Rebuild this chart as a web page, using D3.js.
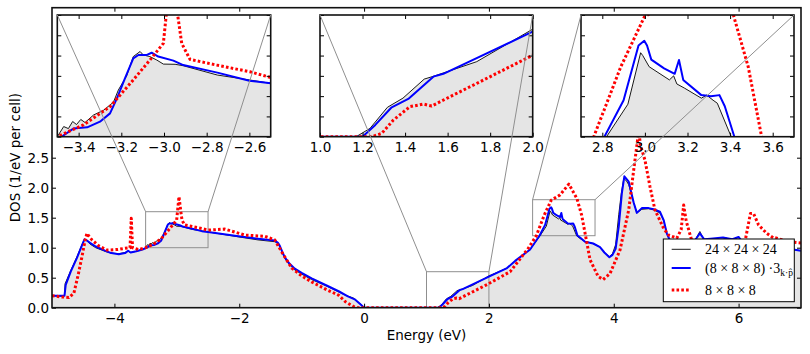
<!DOCTYPE html>
<html>
<head>
<meta charset="utf-8">
<script src="https://cdn.jsdelivr.net/npm/d3@7"></script>
<style>
    body { margin: 0; background: #fff; }
    svg { display: block; font-family: "DejaVu Sans", sans-serif; }
</style>
</head>
<body>
<svg id="chart" width="810" height="354"></svg>
<script>
// Data: [energy (eV), DOS (1/eV per cell)]
const fine24 = [
    [-5.0,0.2],[-4.82,0.19],[-4.8,0.2],[-4.79,0.4],[-4.7,0.62],[-4.6,0.85],[-4.52,1.05],[-4.48,1.14],
    [-4.44,1.12],[-4.39,1.06],[-4.3,1.0],[-4.15,0.94],[-4.05,0.91],[-3.93,0.9],[-3.83,0.92],[-3.78,0.94],
    [-3.74,0.92],[-3.65,0.94],[-3.55,0.97],[-3.5,1.0],[-3.47,1.05],[-3.448,1.04],[-3.428,1.075],[-3.41,1.06],
    [-3.39,1.085],[-3.37,1.07],[-3.33,1.107],[-3.284,1.13],[-3.237,1.17],[-3.214,1.23],[-3.175,1.3],
    [-3.144,1.395],[-3.112,1.42],[-3.097,1.403],[-3.066,1.395],[-3.034,1.378],[-3.003,1.358],[-2.948,1.357],
    [-2.91,1.35],[-2.75,1.304],[-2.6,1.28],[-2.5,1.263],[-2.01,1.18],[-1.7,1.13],[-1.43,1.1],[-1.38,1.07],
    [-1.35,1.02],[-1.31,0.92],[-1.27,0.82],[-1.2,0.72],[-1.11,0.63],[-1.0,0.56],[-0.84,0.47],[-0.6,0.36],
    [-0.4,0.26],[-0.3,0.21],[-0.17,0.16],[-0.08,0.08],[-0.01,0.02],[0.0,0],[1.17,0],[1.235,0.041],
    [1.317,0.145],[1.39,0.19],[1.49,0.284],[1.54,0.3],[1.737,0.37],[2.0,0.53],[2.29,0.66],[2.42,0.78],
    [2.66,0.97],[2.82,1.2],[2.92,1.36],[2.98,1.614],[2.99,1.6],[3.02,1.545],[3.115,1.48],[3.135,1.5],
    [3.15,1.46],[3.185,1.44],[3.265,1.39],[3.29,1.405],[3.32,1.38],[3.34,1.365],[3.405,1.2],[3.45,1.16],
    [3.54,1.1],[3.6,1.09],[3.67,1.07],[3.78,1.01],[3.85,0.92],[3.93,0.85],[3.98,0.9],[4.03,1.05],
    [4.08,1.55],[4.12,1.9],[4.16,2.15],[4.2,2.12],[4.24,2.05],[4.32,1.75],[4.37,1.58],[4.45,1.64],
    [4.56,1.65],[4.64,1.63],[4.74,1.58],[4.8,1.45],[4.85,1.24],[4.9,1.12],[5.0,1.02],[5.1,1.0],
    [5.2,1.04],[5.3,1.12],[5.38,1.27],[5.45,1.12],[5.55,1.15],[5.7,1.12],[5.8,1.16],[5.9,1.13],
    [6.0,1.17],[6.1,1.04],[6.3,1.0],[6.5,0.98],[6.7,1.0],[7.0,0.95]
]
const kp8 = [
    [-5.0,0.2],[-4.8,0.2],[-4.78,0.38],[-4.7,0.6],[-4.6,0.83],[-4.52,1.04],[-4.48,1.14],[-4.44,1.12],
    [-4.39,1.08],[-4.3,1.02],[-4.15,0.95],[-4.05,0.91],[-3.93,0.89],[-3.83,0.91],[-3.78,0.95],[-3.74,0.92],
    [-3.65,0.94],[-3.55,0.97],[-3.48,1.0],[-3.425,1.04],[-3.36,1.046],[-3.3,1.074],[-3.253,1.115],
    [-3.22,1.19],[-3.183,1.288],[-3.144,1.386],[-3.12,1.403],[-3.08,1.403],[-3.058,1.414],[-3.027,1.395],
    [-2.956,1.375],[-2.91,1.353],[-2.75,1.316],[-2.6,1.276],[-2.5,1.263],[-2.01,1.19],[-1.7,1.15],
    [-1.43,1.12],[-1.38,1.08],[-1.35,1.03],[-1.31,0.93],[-1.27,0.84],[-1.2,0.74],[-1.11,0.65],[-1.0,0.58],
    [-0.84,0.49],[-0.6,0.37],[-0.4,0.27],[-0.26,0.19],[-0.15,0.14],[-0.05,0.05],[0.0,0],[1.2,0],
    [1.26,0.058],[1.337,0.145],[1.415,0.186],[1.533,0.296],[1.58,0.31],[2.0,0.518],[2.29,0.66],[2.42,0.78],
    [2.66,0.97],[2.81,1.2],[2.9,1.38],[2.97,1.65],[2.997,1.673],[3.01,1.65],[3.03,1.58],[3.09,1.537],
    [3.14,1.51],[3.16,1.578],[3.18,1.48],[3.265,1.405],[3.31,1.4],[3.35,1.405],[3.375,1.35],[3.42,1.2],
    [3.46,1.17],[3.54,1.1],[3.67,1.07],[3.78,1.01],[3.85,0.92],[3.93,0.84],[3.98,0.88],[4.03,0.98],
    [4.08,1.35],[4.13,1.91],[4.17,2.19],[4.24,2.1],[4.32,1.75],[4.37,1.58],[4.45,1.66],[4.56,1.66],
    [4.64,1.64],[4.74,1.6],[4.8,1.46],[4.85,1.24],[4.9,1.12],[5.0,1.02],[5.1,1.0],[5.2,1.04],[5.3,1.12],
    [5.38,1.24],[5.45,1.14],[5.55,1.15],[5.75,1.17],[5.9,1.14],[6.0,1.18],[6.1,1.04],[6.3,1.0],
    [6.5,0.98],[6.7,1.0],[7.0,0.95]
]
const coarse8 = [
    [-5.0,0.2],[-4.85,0.18],[-4.73,0.17],[-4.65,0.24],[-4.58,0.55],[-4.52,0.85],[-4.47,1.12],[-4.44,1.24],
    [-4.4,1.18],[-4.36,1.13],[-4.25,1.03],[-4.12,0.96],[-3.95,0.97],[-3.83,0.99],[-3.75,1.0],[-3.73,1.49],
    [-3.71,1.0],[-3.61,0.97],[-3.5,1.0],[-3.378,1.058],[-3.253,1.148],[-3.144,1.28],[-3.066,1.378],
    [-3.003,1.46],[-2.98,1.7],[-2.965,1.85],[-2.95,1.72],[-2.936,1.6],[-2.917,1.46],[-2.878,1.381],
    [-2.753,1.353],[-2.597,1.32],[-2.503,1.293],[-2.23,1.31],[-1.91,1.21],[-1.59,1.19],[-1.43,1.13],
    [-1.32,0.93],[-1.16,0.66],[-1.0,0.53],[-0.84,0.43],[-0.6,0.3],[-0.41,0.21],[-0.3,0.1],[-0.17,0.02],
    [-0.1,0],[1.243,0],[1.29,0.016],[1.345,0.082],[1.423,0.148],[1.486,0.161],[1.525,0.151],[1.611,0.197],
    [1.768,0.279],[1.987,0.395],[2.34,0.6],[2.63,0.99],[2.76,1.2],[2.887,1.545],[2.997,1.79],[3.14,1.88],
    [3.28,2.06],[3.41,1.82],[3.485,1.545],[3.548,1.2],[3.62,0.8],[3.75,0.52],[3.83,0.47],[3.94,0.57],
    [4.1,0.96],[4.24,1.63],[4.32,2.3],[4.37,2.7],[4.4,2.95],[4.43,2.7],[4.5,2.46],[4.58,2.02],[4.66,1.63],
    [4.8,1.32],[4.88,1.21],[5.01,1.16],[5.08,1.3],[5.12,1.71],[5.16,1.45],[5.2,1.3],[5.25,1.12],[5.4,1.05],
    [5.6,0.98],[5.8,1.02],[6.0,1.05],[6.11,1.14],[6.19,1.57],[6.24,1.57],[6.32,1.38],[6.45,1.24],
    [6.56,1.16],[6.61,1.16],[6.8,1.1],[7.0,1.08]
]

const seriesLabels = ["24 × 24 × 24", "(8 × 8 × 8) ·3", "8 × 8 × 8"]
const mainXDomain = [-5, 7]
const mainYDomain = [0, 5]
const mainXTicks = [-4, -2, 0, 2, 4, 6]
const mainYTicks = [0, 0.5, 1.0, 1.5, 2.0, 2.5]
const insetXDomains = [[-3.5, -2.5], [1.0, 2.0], [2.7, 3.7]]
const insetYDomains = [[1.0, 1.6], [0, 0.6], [1.2, 1.8]]
const insetXTicks = [[-3.4, -3.2, -3.0, -2.8, -2.6], [1.0, 1.2, 1.4, 1.6, 1.8, 2.0], [2.8, 3.0, 3.2, 3.4, 3.6]]

//Params
const params = {
    main: {left: 52, right: 801, top: 7.7, bottom: 307.7},
    insets: [
        {left: 57.3, right: 270.7, top: 15, bottom: 136.7},
        {left: 320, right: 532.7, top: 15, bottom: 136.7},
        {left: 581, right: 794, top: 15, bottom: 136.7}
    ],
    tick: 4,
    fontSize: 13.5,
    legendFont: 14,
    fill: "#e5e5e5",
    markColor: "#8f8f8f"
}
const styles = [
    {color: "#000000", width: 0.9, dash: null},
    {color: "#0000ff", width: 2, dash: null},
    {color: "#ff0000", width: 3, dash: "2.6,2.2"}
]
const allSeries = [fine24, kp8, coarse8]

const svg = d3.select("#chart")
svg.append("rect").attr("width", 810).attr("height", 354).attr("fill", "white")

function makeScales(box, xDom, yDom){
    return {
        x: d3.scaleLinear().domain(xDom).range([box.left, box.right]),
        y: d3.scaleLinear().domain(yDom).range([box.bottom, box.top])
    }
}

function drawPanel(box, sc, id, withBg, extra){
    svg.append("clipPath").attr("id", "clip-" + id)
        .append("rect")
        .attr("x", box.left).attr("y", box.top)
        .attr("width", box.right - box.left).attr("height", box.bottom - box.top)

    const g = svg.append("g").attr("clip-path", "url(#clip-" + id + ")")
    if(withBg){
        g.append("rect")
            .attr("x", box.left).attr("y", box.top)
            .attr("width", box.right - box.left).attr("height", box.bottom - box.top)
            .attr("fill", "white")
    }

    const area = d3.area().x(d => sc.x(d[0])).y0(sc.y(0)).y1(d => sc.y(d[1]))
    g.append("path").datum(fine24).attr("d", area).attr("fill", params.fill)

    if(extra) extra(g)

    const line = d3.line().x(d => sc.x(d[0])).y(d => sc.y(d[1]))
    allSeries.forEach(function(s, i){
        g.append("path").datum(s)
            .attr("d", line)
            .attr("fill", "none")
            .attr("stroke", styles[i].color)
            .attr("stroke-width", styles[i].width)
            .attr("stroke-dasharray", styles[i].dash)
            .attr("stroke-linejoin", "round")
    })
}

function drawAxes(box, sc, xTicks, yTicks, xFmt, yFmt){
    const t = params.tick
    const none = () => ""
    const axes = [
        svg.append("g").attr("transform", "translate(0," + box.bottom + ")")
            .call(d3.axisBottom(sc.x).tickValues(xTicks).tickSize(-t).tickPadding(5.5).tickFormat(xFmt ? d3.format(xFmt) : none)),
        svg.append("g").attr("transform", "translate(0," + box.top + ")")
            .call(d3.axisTop(sc.x).tickValues(xTicks).tickSize(-t).tickFormat(none)),
        svg.append("g").attr("transform", "translate(" + box.left + ",0)")
            .call(d3.axisLeft(sc.y).tickValues(yTicks).tickSize(-t).tickPadding(3).tickFormat(yFmt ? d3.format(yFmt) : none)),
        svg.append("g").attr("transform", "translate(" + box.right + ",0)")
            .call(d3.axisRight(sc.y).tickValues(yTicks).tickSize(-t).tickFormat(none))
    ]
    axes.forEach(a => {
        a.select(".domain").remove()
        a.attr("font-size", params.fontSize).attr("font-family", "DejaVu Sans, sans-serif")
        a.selectAll(".tick line").attr("stroke", "#000").attr("stroke-width", 1)
        a.selectAll(".tick text").attr("fill", "#000")
    })
    svg.append("rect")
        .attr("x", box.left).attr("y", box.top)
        .attr("width", box.right - box.left).attr("height", box.bottom - box.top)
        .attr("fill", "none").attr("stroke", "#111").attr("stroke-width", 1.6)
}

// main axes
const m = params.main
const ms = makeScales(m, mainXDomain, mainYDomain)
drawPanel(m, ms, "main", false, function(g){
    insetXDomains.forEach(function(xd, i){
        const yd = insetYDomains[i]
        g.append("rect")
            .attr("x", ms.x(xd[0])).attr("y", ms.y(yd[1]))
            .attr("width", ms.x(xd[1]) - ms.x(xd[0])).attr("height", ms.y(yd[0]) - ms.y(yd[1]))
            .attr("fill", "none").attr("stroke", params.markColor).attr("stroke-width", 1)
    })
})
drawAxes(m, ms, mainXTicks, mainYTicks, "d", ".1f")

svg.append("text")
    .attr("transform", "translate(15.7," + ((m.top + m.bottom) / 2) + ") rotate(-90)")
    .attr("text-anchor", "middle").attr("dy", "0.35em")
    .attr("font-size", params.fontSize)
    .text("DOS (1/eV per cell)")
svg.append("text")
    .attr("x", (m.left + m.right) / 2).attr("y", 340)
    .attr("text-anchor", "middle")
    .attr("font-size", params.fontSize)
    .text("Energy (eV)")

// legend
const lg = svg.append("g").attr("transform", "translate(663.3,239)")
lg.append("rect").attr("width", 131).attr("height", 62.7)
    .attr("fill", "white").attr("stroke", "#000").attr("stroke-width", 1)
const rowY = [10.3, 29, 51]
seriesLabels.forEach(function(label, i){
    lg.append("line")
        .attr("x1", 8.4).attr("x2", 27.4).attr("y1", rowY[i]).attr("y2", rowY[i])
        .attr("stroke", styles[i].color).attr("stroke-width", styles[i].width)
        .attr("stroke-dasharray", styles[i].dash)
    const txt = lg.append("text")
        .attr("x", 41.7).attr("y", rowY[i]).attr("dy", "0.35em")
        .attr("font-family", "Liberation Serif, DejaVu Serif, serif")
        .attr("font-size", params.legendFont)
        .text(label)
    if(i === 1){
        txt.append("tspan").attr("font-size", 9.5).attr("dy", 3).text("k·p\u0302")
    }
})

// insets
params.insets.forEach(function(box, i){
    const sc = makeScales(box, insetXDomains[i], insetYDomains[i])
    drawPanel(box, sc, "inset" + i, true)
    const yd = insetYDomains[i]
    const yTicks = d3.range(0, 7).map(k => +(yd[0] + k * 0.1).toFixed(2))
    drawAxes(box, sc, insetXTicks[i], yTicks, ".1f", null)
})

// connectors between the marked windows and their insets
params.insets.forEach(function(box, i){
    const xd = insetXDomains[i]
    const top = ms.y(insetYDomains[i][1])
    const pairs = [[box.left, box.top, ms.x(xd[0]), top], [box.right, box.top, ms.x(xd[1]), top]]
    pairs.forEach(p => {
        svg.append("line")
            .attr("x1", p[0]).attr("y1", p[1]).attr("x2", p[2]).attr("y2", p[3])
            .attr("stroke", params.markColor).attr("stroke-width", 1)
    })
})
</script>
</body>
</html>
